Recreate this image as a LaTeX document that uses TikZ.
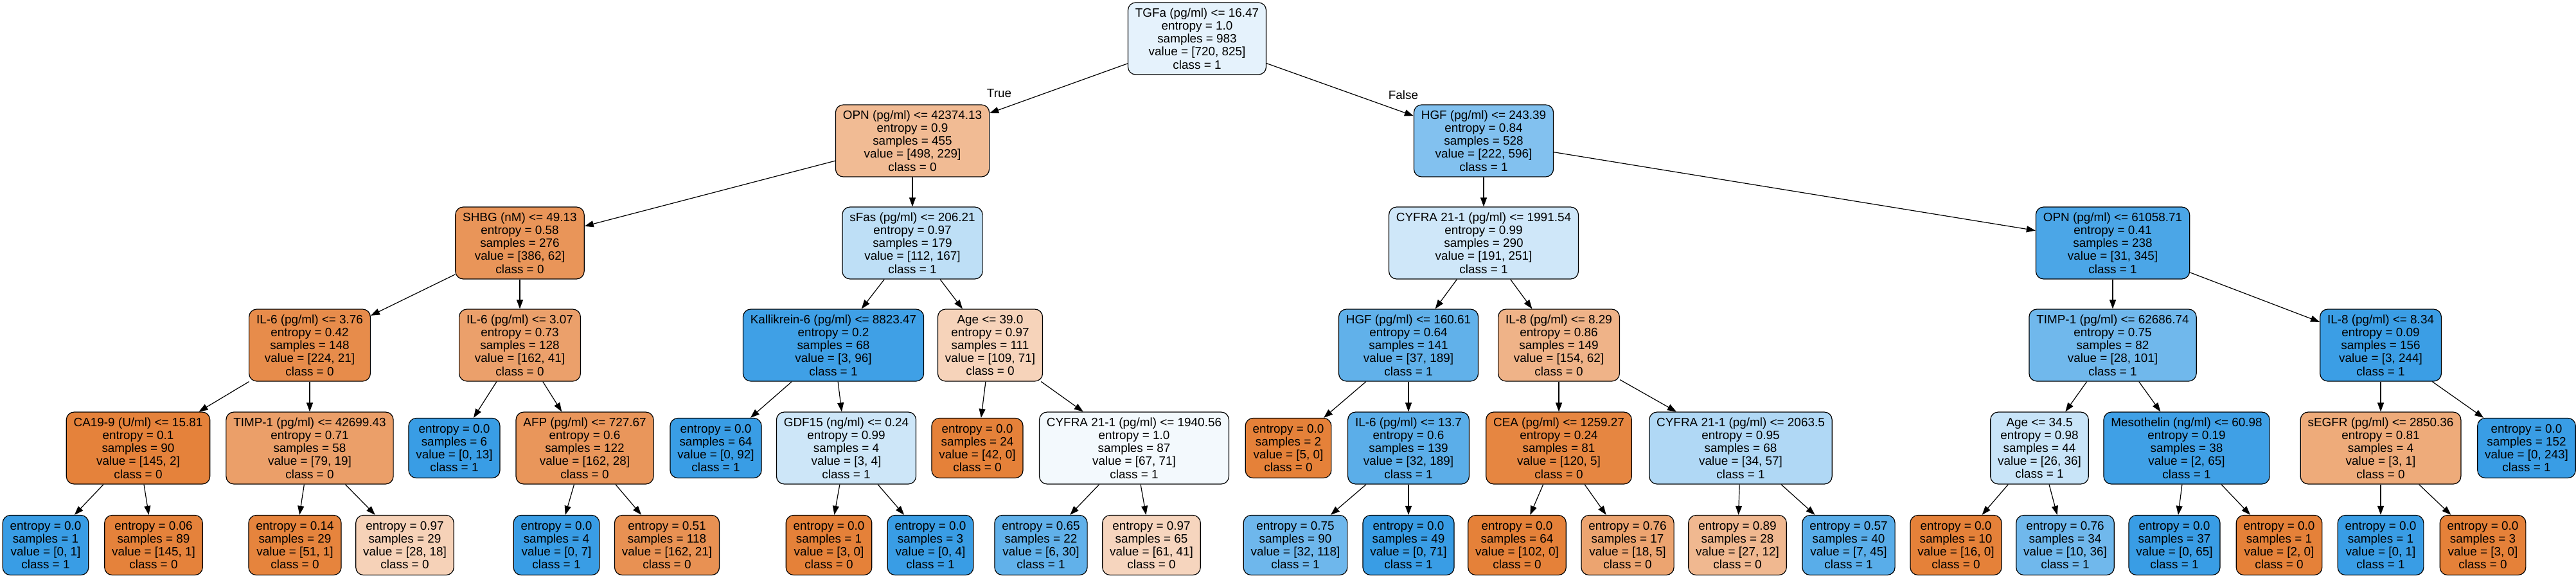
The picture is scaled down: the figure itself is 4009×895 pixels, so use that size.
\documentclass[tikz,border=0pt]{standalone}
\usepackage{fontspec}
\setmainfont{Liberation Sans}
\usetikzlibrary{arrows.meta}

\definecolor{cls0}{RGB}{229,129,57}
\definecolor{cls1}{RGB}{57,157,229}

\tikzset{every picture/.style={line width=0.6pt}}
\tikzset{
  splitnode/.style={draw, rounded corners=6pt, align=center, minimum height=56pt,
    inner xsep=5.7pt, inner ysep=0pt, font=\fontsize{9.45}{10.1}\selectfont},
  leafnode/.style={splitnode, minimum height=46.5pt},
  branchlabel/.style={inner sep=0pt, font=\fontsize{9.45}{10.1}\selectfont},
  branch/.style={-{Triangle[length=7pt,width=5pt]}}
}

\begin{document}
\begin{tikzpicture}[x=0.5pt,y=0.5pt,yscale=-1,xscale=1]
        \path[use as bounding box, fill=white] (0,0) rectangle (4009,895);

        % Text Node
        \node[splitnode, fill=cls1!13] (root) at (1863,60) {TGFa (pg/ml) <= 16.47\\entropy = 1.0\\samples = 983\\value = [720, 825]\\class = 1};

        % Text Node
        \node[splitnode, fill=cls0!54] (opnA) at (1420,219) {OPN (pg/ml) <= 42374.13\\entropy = 0.9\\samples = 455\\value = [498, 229]\\class = 0};
        % Text Node
        \node[splitnode, fill=cls1!63] (hgfA) at (2309,219) {HGF (pg/ml) <= 243.39\\entropy = 0.84\\samples = 528\\value = [222, 596]\\class = 1};

        % Text Node
        \node[splitnode, fill=cls0!84] (shbg) at (809,378) {SHBG (nM) <= 49.13\\entropy = 0.58\\samples = 276\\value = [386, 62]\\class = 0};
        % Text Node
        \node[splitnode, fill=cls1!33] (sfas) at (1420,378) {sFas (pg/ml) <= 206.21\\entropy = 0.97\\samples = 179\\value = [112, 167]\\class = 1};
        % Text Node
        \node[splitnode, fill=cls1!24] (cyfraA) at (2309,378) {CYFRA 21-1 (pg/ml) <= 1991.54\\entropy = 0.99\\samples = 290\\value = [191, 251]\\class = 1};
        % Text Node
        \node[splitnode, fill=cls1!91] (opnB) at (3288,378) {OPN (pg/ml) <= 61058.71\\entropy = 0.41\\samples = 238\\value = [31, 345]\\class = 1};

        % Text Node
        \node[splitnode, fill=cls0!91] (ilsixA) at (482,537) {IL-6 (pg/ml) <= 3.76\\entropy = 0.42\\samples = 148\\value = [224, 21]\\class = 0};
        % Text Node
        \node[splitnode, fill=cls0!75] (ilsixB) at (809,537) {IL-6 (pg/ml) <= 3.07\\entropy = 0.73\\samples = 128\\value = [162, 41]\\class = 0};
        % Text Node
        \node[splitnode, fill=cls1!97] (kall) at (1297,537) {Kallikrein-6 (pg/ml) <= 8823.47\\entropy = 0.2\\samples = 68\\value = [3, 96]\\class = 1};
        % Text Node
        \node[splitnode, fill=cls0!35] (ageA) at (1541,537) {Age <= 39.0\\entropy = 0.97\\samples = 111\\value = [109, 71]\\class = 0};
        % Text Node
        \node[splitnode, fill=cls1!80] (hgfB) at (2192,537) {HGF (pg/ml) <= 160.61\\entropy = 0.64\\samples = 141\\value = [37, 189]\\class = 1};
        % Text Node
        \node[splitnode, fill=cls0!60] (ileightA) at (2426,537) {IL-8 (pg/ml) <= 8.29\\entropy = 0.86\\samples = 149\\value = [154, 62]\\class = 0};
        % Text Node
        \node[splitnode, fill=cls1!72] (timpB) at (3288,537) {TIMP-1 (pg/ml) <= 62686.74\\entropy = 0.75\\samples = 82\\value = [28, 101]\\class = 1};
        % Text Node
        \node[splitnode, fill=cls1!99] (ileightB) at (3705,537) {IL-8 (pg/ml) <= 8.34\\entropy = 0.09\\samples = 156\\value = [3, 244]\\class = 1};

        % Text Node
        \node[splitnode, fill=cls0!99] (ca) at (215,697) {CA19-9 (U/ml) <= 15.81\\entropy = 0.1\\samples = 90\\value = [145, 2]\\class = 0};
        % Text Node
        \node[splitnode, fill=cls0!76] (timpA) at (482,697) {TIMP-1 (pg/ml) <= 42699.43\\entropy = 0.71\\samples = 58\\value = [79, 19]\\class = 0};
        % Text Node
        \node[leafnode, fill=cls1] (leafA) at (707,697) {entropy = 0.0\\samples = 6\\value = [0, 13]\\class = 1};
        % Text Node
        \node[splitnode, fill=cls0!83] (afp) at (910,697) {AFP (pg/ml) <= 727.67\\entropy = 0.6\\samples = 122\\value = [162, 28]\\class = 0};
        % Text Node
        \node[leafnode, fill=cls1] (leafB) at (1114,697) {entropy = 0.0\\samples = 64\\value = [0, 92]\\class = 1};
        % Text Node
        \node[splitnode, fill=cls1!25] (gdf) at (1317,697) {GDF15 (ng/ml) <= 0.24\\entropy = 0.99\\samples = 4\\value = [3, 4]\\class = 1};
        % Text Node
        \node[leafnode, fill=cls0] (leafC) at (1521,697) {entropy = 0.0\\samples = 24\\value = [42, 0]\\class = 0};
        % Text Node
        \node[splitnode, fill=cls1!6] (cyfraB) at (1765,697) {CYFRA 21-1 (pg/ml) <= 1940.56\\entropy = 1.0\\samples = 87\\value = [67, 71]\\class = 1};
        % Text Node
        \node[leafnode, fill=cls0] (leafD) at (2005,697) {entropy = 0.0\\samples = 2\\value = [5, 0]\\class = 0};
        % Text Node
        \node[splitnode, fill=cls1!83] (ilsixC) at (2192,697) {IL-6 (pg/ml) <= 13.7\\entropy = 0.6\\samples = 139\\value = [32, 189]\\class = 1};
        % Text Node
        \node[splitnode, fill=cls0!96] (cea) at (2426,697) {CEA (pg/ml) <= 1259.27\\entropy = 0.24\\samples = 81\\value = [120, 5]\\class = 0};
        % Text Node
        \node[splitnode, fill=cls1!40] (cyfraC) at (2709,697) {CYFRA 21-1 (pg/ml) <= 2063.5\\entropy = 0.95\\samples = 68\\value = [34, 57]\\class = 1};
        % Text Node
        \node[splitnode, fill=cls1!28] (ageB) at (3174,697) {Age <= 34.5\\entropy = 0.98\\samples = 44\\value = [26, 36]\\class = 1};
        % Text Node
        \node[splitnode, fill=cls1!97] (meso) at (3403,697) {Mesothelin (ng/ml) <= 60.98\\entropy = 0.19\\samples = 38\\value = [2, 65]\\class = 1};
        % Text Node
        \node[splitnode, fill=cls0!67] (segfr) at (3705,697) {sEGFR (pg/ml) <= 2850.36\\entropy = 0.81\\samples = 4\\value = [3, 1]\\class = 0};
        % Text Node
        \node[leafnode, fill=cls1] (leafE) at (3932,697) {entropy = 0.0\\samples = 152\\value = [0, 243]\\class = 1};

        % Text Node
        \node[leafnode, fill=cls1] (lfA) at (71,848) {entropy = 0.0\\samples = 1\\value = [0, 1]\\class = 1};
        % Text Node
        \node[leafnode, fill=cls0!99] (lfB) at (239,848) {entropy = 0.06\\samples = 89\\value = [145, 1]\\class = 0};
        % Text Node
        \node[leafnode, fill=cls0!98] (lfC) at (459,848) {entropy = 0.14\\samples = 29\\value = [51, 1]\\class = 0};
        % Text Node
        \node[leafnode, fill=cls0!36] (lfD) at (630,848) {entropy = 0.97\\samples = 29\\value = [28, 18]\\class = 0};
        % Text Node
        \node[leafnode, fill=cls1] (lfE) at (866,848) {entropy = 0.0\\samples = 4\\value = [0, 7]\\class = 1};
        % Text Node
        \node[leafnode, fill=cls0!87] (lfF) at (1038,848) {entropy = 0.51\\samples = 118\\value = [162, 21]\\class = 0};
        % Text Node
        \node[leafnode, fill=cls0] (lfG) at (1290,848) {entropy = 0.0\\samples = 1\\value = [3, 0]\\class = 0};
        % Text Node
        \node[leafnode, fill=cls1] (lfH) at (1448,848) {entropy = 0.0\\samples = 3\\value = [0, 4]\\class = 1};
        % Text Node
        \node[leafnode, fill=cls1!80] (lfI) at (1620,848) {entropy = 0.65\\samples = 22\\value = [6, 30]\\class = 1};
        % Text Node
        \node[leafnode, fill=cls0!33] (lfJ) at (1792,848) {entropy = 0.97\\samples = 65\\value = [61, 41]\\class = 0};
        % Text Node
        \node[leafnode, fill=cls1!73] (lfK) at (2016,848) {entropy = 0.75\\samples = 90\\value = [32, 118]\\class = 1};
        % Text Node
        \node[leafnode, fill=cls1] (lfL) at (2192,848) {entropy = 0.0\\samples = 49\\value = [0, 71]\\class = 1};
        % Text Node
        \node[leafnode, fill=cls0] (lfM) at (2361,848) {entropy = 0.0\\samples = 64\\value = [102, 0]\\class = 0};
        % Text Node
        \node[leafnode, fill=cls0!72] (lfN) at (2533,848) {entropy = 0.76\\samples = 17\\value = [18, 5]\\class = 0};
        % Text Node
        \node[leafnode, fill=cls0!56] (lfO) at (2704,848) {entropy = 0.89\\samples = 28\\value = [27, 12]\\class = 0};
        % Text Node
        \node[leafnode, fill=cls1!84] (lfP) at (2877,848) {entropy = 0.57\\samples = 40\\value = [7, 45]\\class = 1};
        % Text Node
        \node[leafnode, fill=cls0] (lfQ) at (3044,848) {entropy = 0.0\\samples = 10\\value = [16, 0]\\class = 0};
        % Text Node
        \node[leafnode, fill=cls1!72] (lfR) at (3214,848) {entropy = 0.76\\samples = 34\\value = [10, 36]\\class = 1};
        % Text Node
        \node[leafnode, fill=cls1] (lfS) at (3384,848) {entropy = 0.0\\samples = 37\\value = [0, 65]\\class = 1};
        % Text Node
        \node[leafnode, fill=cls0] (lfT) at (3547,848) {entropy = 0.0\\samples = 1\\value = [2, 0]\\class = 0};
        % Text Node
        \node[leafnode, fill=cls1] (lfU) at (3705,848) {entropy = 0.0\\samples = 1\\value = [0, 1]\\class = 1};
        % Text Node
        \node[leafnode, fill=cls0] (lfV) at (3864,848) {entropy = 0.0\\samples = 3\\value = [3, 0]\\class = 0};

        % Text Node
        \node[branchlabel] (lbltrue) at (1555,145) {True};
        % Text Node
        \node[branchlabel] (lblfalse) at (2184,148) {False};

        %Straight Lines
        \draw[branch] (root) -- (opnA);
        \draw[branch] (root) -- (hgfA);
        %Straight Lines
        \draw[branch] (opnA) -- (shbg);
        \draw[branch] (opnA) -- (sfas);
        \draw[branch] (hgfA) -- (cyfraA);
        \draw[branch] (hgfA) -- (opnB);
        %Straight Lines
        \draw[branch] (shbg) -- (ilsixA);
        \draw[branch] (shbg) -- (ilsixB);
        \draw[branch] (sfas) -- (kall);
        \draw[branch] (sfas) -- (ageA);
        \draw[branch] (cyfraA) -- (hgfB);
        \draw[branch] (cyfraA) -- (ileightA);
        \draw[branch] (opnB) -- (timpB);
        \draw[branch] (opnB) -- (ileightB);
        %Straight Lines
        \draw[branch] (ilsixA) -- (ca);
        \draw[branch] (ilsixA) -- (timpA);
        \draw[branch] (ilsixB) -- (leafA);
        \draw[branch] (ilsixB) -- (afp);
        \draw[branch] (kall) -- (leafB);
        \draw[branch] (kall) -- (gdf);
        \draw[branch] (ageA) -- (leafC);
        \draw[branch] (ageA) -- (cyfraB);
        \draw[branch] (hgfB) -- (leafD);
        \draw[branch] (hgfB) -- (ilsixC);
        \draw[branch] (ileightA) -- (cea);
        \draw[branch] (ileightA) -- (cyfraC);
        \draw[branch] (timpB) -- (ageB);
        \draw[branch] (timpB) -- (meso);
        \draw[branch] (ileightB) -- (segfr);
        \draw[branch] (ileightB) -- (leafE);
        %Straight Lines
        \draw[branch] (ca) -- (lfA);
        \draw[branch] (ca) -- (lfB);
        \draw[branch] (timpA) -- (lfC);
        \draw[branch] (timpA) -- (lfD);
        \draw[branch] (afp) -- (lfE);
        \draw[branch] (afp) -- (lfF);
        \draw[branch] (gdf) -- (lfG);
        \draw[branch] (gdf) -- (lfH);
        \draw[branch] (cyfraB) -- (lfI);
        \draw[branch] (cyfraB) -- (lfJ);
        \draw[branch] (ilsixC) -- (lfK);
        \draw[branch] (ilsixC) -- (lfL);
        \draw[branch] (cea) -- (lfM);
        \draw[branch] (cea) -- (lfN);
        \draw[branch] (cyfraC) -- (lfO);
        \draw[branch] (cyfraC) -- (lfP);
        \draw[branch] (ageB) -- (lfQ);
        \draw[branch] (ageB) -- (lfR);
        \draw[branch] (meso) -- (lfS);
        \draw[branch] (meso) -- (lfT);
        \draw[branch] (segfr) -- (lfU);
        \draw[branch] (segfr) -- (lfV);

\end{tikzpicture}
\end{document}
